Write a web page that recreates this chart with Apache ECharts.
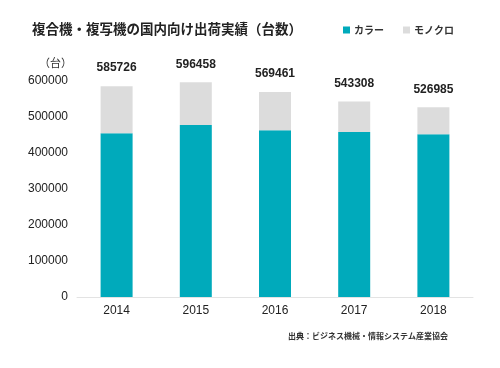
<!DOCTYPE html>
<html><head><meta charset="utf-8">
<script src="https://cdn.jsdelivr.net/npm/echarts@6/dist/echarts.min.js"></script>
<style>html,body{margin:0;padding:0;background:#fff}#c{width:500px;height:368px}</style>
</head><body><div id="c"></div>
<script>
const categories = ['2014','2015','2016','2017','2018'];
const totals = [585726, 596458, 569461, 543308, 526985];
const colorUnits = [455000, 478000, 463000, 458000, 452000];
const monoUnits = [130726, 118458, 106461, 85308, 74985];
const yTicks = [0, 100000, 200000, 300000, 400000, 500000, 600000];

const jp = '"Noto Sans CJK JP", sans-serif';
const num = '"Liberation Sans", Arial, sans-serif';
const chart = echarts.init(document.getElementById('c'));
chart.setOption({
  backgroundColor: '#fff',
  animation: false,
  title: {
    text: '複合機・複写機の国内向け出荷実績（台数）',
    left: 27, top: 17,
    textStyle: {fontFamily: jp, fontSize: 13.5, fontWeight: 'bold', color: '#222'}
  },
  legend: {
    left: 338, top: 20,
    itemWidth: 7, itemHeight: 7, itemGap: 19,
    icon: 'rect',
    textStyle: {fontFamily: jp, fontSize: 10, fontWeight: 'bold', color: '#333', padding: [0,0,0,-1]},
    data: ['カラー', 'モノクロ']
  },
  grid: {left: 77, right: 27, top: 81, bottom: 71},
  xAxis: {
    type: 'category', data: categories,
    axisLine: {lineStyle: {color: '#e3e3e3', width: 1}},
    axisTick: {show: false},
    axisLabel: {fontFamily: num, fontSize: 12, color: '#222', margin: 8}
  },
  yAxis: {
    type: 'value', min: yTicks[0], max: yTicks[yTicks.length-1], interval: 100000,
    axisLine: {show: false}, axisTick: {show: false}, splitLine: {show: false},
    axisLabel: {fontFamily: num, fontSize: 12, color: '#222', margin: 9, formatter: v => String(v)}
  },
  graphic: [
    {type: 'text', left: 39, top: 57, style: {text: '（台）', font: '11px "Noto Sans CJK JP"', fill: '#333'}},
    {type: 'text', right: 52, top: 332, style: {text: '出典：ビジネス機械・情報システム産業協会', font: 'bold 8px "Noto Sans CJK JP"', fill: '#333'}}
  ],
  series: [
    {name: 'カラー', type: 'bar', stack: 'a', data: colorUnits, barWidth: 32,
     itemStyle: {color: '#00aabb'}},
    {name: 'モノクロ', type: 'bar', stack: 'a', data: monoUnits, barWidth: 32,
     itemStyle: {color: '#dcdcdc'},
     label: {show: true, position: 'top', distance: 12,
       formatter: p => String(totals[p.dataIndex]),
       fontFamily: num, fontSize: 12, fontWeight: 'bold', color: '#222'}}
  ]
});
</script></body></html>
